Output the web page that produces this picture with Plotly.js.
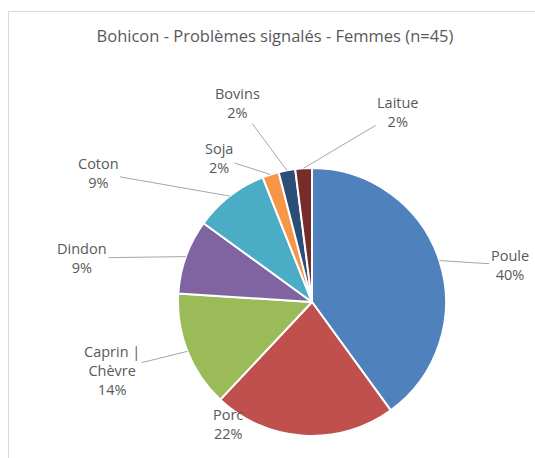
<!DOCTYPE html>
<html>
<head>
<meta charset="utf-8">
<script src="https://cdn.plot.ly/plotly-3.0.1.min.js"></script>
<style>
  body { margin: 0; background: #fff; }
  #chart { width: 535px; height: 458px; }
</style>
</head>
<body>
<div id="chart"></div>
<script>
// Data
const labels = ['Poule', 'Porc', 'Caprin | Chèvre', 'Dindon', 'Coton', 'Soja', 'Bovins', 'Laitue'];
const labelText = ['Poule', 'Porc', 'Caprin |<br>Chèvre', 'Dindon', 'Coton', 'Soja', 'Bovins', 'Laitue'];
const values = [40, 22, 14, 9, 9, 2, 2, 2];
const colors = ['#4F81BD', '#C0504D', '#9BBB59', '#8064A2', '#4BACC6', '#F79646', '#2C4D75', '#772C2A'];

// Where each label sits (pixels); leader = draw a line to the slice
const labelPos = [[510, 265], [228, 424], [112, 370], [82, 258], [98, 173], [219, 158], [237, 103], [398, 112]];
const leader = [true, false, true, true, true, true, true, true];

const W = 535, H = 458;
const cx = 312, cy = 302, R = 134;
const total = values.reduce((s, v) => s + v, 0);
const labelFont = { size: 14.5, color: '#595959' };

let annotations = [];
let cum = 0;
values.forEach((v, i) => {
    let a = 2 * Math.PI * (cum + v / 2) / total;
    cum += v;
    let pct = Math.round(100 * v / total) + '%';
    let txt = labelText[i] + '<br>' + pct;
    let [lx, ly] = labelPos[i];
    if (leader[i]) {
        let tx = cx + R * Math.sin(a);
        let ty = cy - R * Math.cos(a);
        annotations.push({
            x: tx / W, y: 1 - ty / H, xref: 'paper', yref: 'paper',
            ax: lx - tx, ay: ly - ty, axref: 'pixel', ayref: 'pixel',
            text: txt, showarrow: true, arrowhead: 0, arrowwidth: 1,
            arrowcolor: '#a6a6a6', standoff: 0,
            font: labelFont
        });
    } else {
        annotations.push({
            x: lx / W, y: 1 - ly / H, xref: 'paper', yref: 'paper',
            xanchor: 'center', yanchor: 'middle',
            text: txt, showarrow: false,
            font: labelFont
        });
    }
});

let trace = {
    type: 'pie',
    labels: labels,
    values: values,
    sort: false,
    direction: 'clockwise',
    rotation: 0,
    textinfo: 'none',
    hoverinfo: 'skip',
    marker: { colors: colors, line: { color: '#ffffff', width: 2 } },
    domain: { x: [(cx - R) / W, (cx + R) / W], y: [1 - (cy + R) / H, 1 - (cy - R) / H] }
};

let layout = {
    width: W,
    height: H,
    margin: { l: 0, r: 0, t: 0, b: 0 },
    showlegend: false,
    paper_bgcolor: '#ffffff',
    font: { family: 'Open Sans, sans-serif', color: '#595959' },
    title: {
        text: 'Bohicon - Problèmes signalés - Femmes (n=45)',
        font: { size: 16.5, color: '#595959' },
        x: 275 / W, xanchor: 'center',
        y: 1 - 36 / H, yanchor: 'middle', xref: 'paper', yref: 'paper'
    },
    shapes: [{
        type: 'rect', xref: 'paper', yref: 'paper',
        x0: 8.5 / W, x1: 1.05, y0: -0.05, y1: 1 - 11.5 / H,
        line: { color: '#d9d9d9', width: 1 }
    }],
    annotations: annotations
};

Plotly.newPlot('chart', [trace], layout, { displayModeBar: false, staticPlot: true });
</script>
</body>
</html>
